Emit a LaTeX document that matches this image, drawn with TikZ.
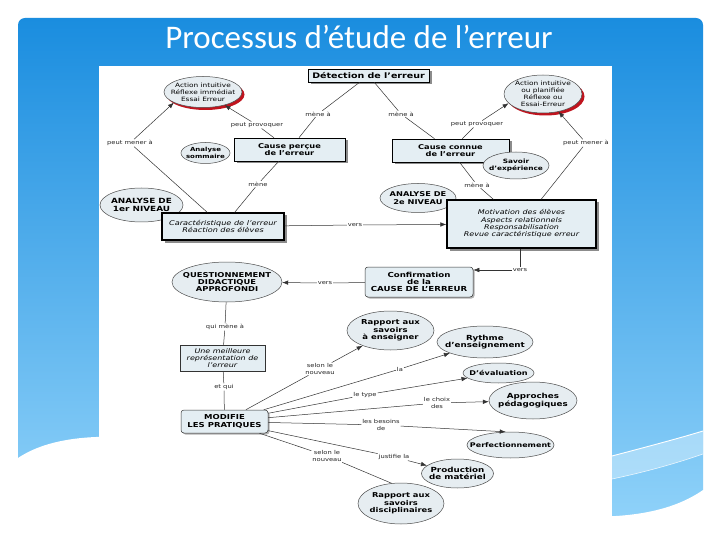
\documentclass[tikz,border=0pt]{standalone}
\usepackage{fontspec}
\setmainfont{DejaVu Sans}[FakeStretch=1.25]
\newfontfamily\titlefont{Carlito}
\usetikzlibrary{shapes.geometric,shadows,arrows.meta}
\definecolor{slidetop}{HTML}{1A8DDF}
\definecolor{slidemid}{HTML}{52B0EF}
\definecolor{slidebot}{HTML}{93D4FA}
\definecolor{boxfill}{HTML}{E4EEF3}
\definecolor{ellfill}{HTML}{E6EDF1}
\definecolor{redsh}{HTML}{C0141E}
\newcommand\mapsize[2]{\fontsize{#1}{#2}\selectfont}
\tikzset{
  ellshape/.style={ellipse, draw=black!70, line width=0.5pt, fill=ellfill, inner sep=0pt},
  redshadow/.style={drop shadow={shadow xshift=2.5pt, shadow yshift=-2.5pt, fill=redsh, opacity=1}},
  grayshadow/.style={drop shadow={shadow xshift=2.5pt, shadow yshift=-2.5pt, fill=black!45, opacity=1}},
  softshadow/.style={drop shadow={shadow xshift=1.5pt, shadow yshift=-1.5pt, fill=black!30, opacity=1}},
  etext/.style={inner sep=0pt, align=center, font=\bfseries\mapsize{6.7}{7.3}},
  eplain/.style={inner sep=0pt, align=center, font=\mapsize{5.9}{6.9}},
  boxnode/.style={rectangle, draw=black, line width=0.6pt, fill=boxfill, inner sep=0pt, align=center, font=\bfseries\mapsize{6.6}{7.3}},
  thickbox/.style={boxnode, line width=1.3pt, font=\itshape\mapsize{6.5}{7.3}},
  thinbox/.style={boxnode, line width=0.5pt, draw=black!80, font=\itshape\mapsize{6.4}{7.3}},
  roundbox/.style={boxnode, rounded corners=3pt, line width=0.5pt, draw=black!80},
  lbl/.style={inner sep=0.8pt, fill=white, align=center, text=black!85, font=\mapsize{5.4}{6.6}},
  conn/.style={draw=black!80, line width=0.5pt},
  arr/.style={conn, -{Latex[length=6pt,width=4.5pt]}},
}
\begin{document}
\begin{tikzpicture}[x=1pt,y=-1pt]
\useasboundingbox (0,0) rectangle (720,540);
\fill[white] (0,0) rectangle (720,540);
% slide background
\shade[top color=slidetop, middle color=slidemid, bottom color=slidebot, rounded corners=7pt] (18,18) rectangle (703,535);
\fill[white!60!slidebot, opacity=0.5] (612,456) .. controls (650,446) and (680,438) .. (703,431) -- (703,454) .. controls (680,462) and (650,471) .. (612,479) -- cycle;
\draw[white, line width=0.9pt] (612,456) .. controls (650,446) and (680,438) .. (703,431);
\draw[white, line width=0.6pt, opacity=0.8] (612,479) .. controls (650,471) and (680,462) .. (703,454);
\fill[white] (0,540) -- (0,458) -- (18,458) .. controls (150,370) and (560,590) .. (703,490) -- (720,490) -- (720,540) -- cycle;
\node[font=\titlefont\fontsize{33}{37}\selectfont, text=white, anchor=base, inner sep=0pt] (title) at (359,49) {Processus d’étude de l’erreur};
% picture frame
\fill[white] (99,66) rectangle (612,527);

% nodes
\node[boxnode, grayshadow, minimum width=121pt, minimum height=13pt, font=\bfseries\mapsize{7.6}{8}] (det) at (368.5,75.5) {Détection de l'erreur};

\node[ellshape, redshadow, minimum width=78pt, minimum height=31pt] (actL) at (203,92) {};
\node[eplain] (actLt) at (actL) {Action intuitive\\Réflexe immédiat\\Essai Erreur};
\node[ellshape, redshadow, minimum width=78pt, minimum height=38pt] (actR) at (543,94) {};
\node[eplain] (actRt) at (actR) {Action intuitive\\ou planifiée\\Réflexe ou\\Essai-Erreur};

\node[boxnode, grayshadow, minimum width=111pt, minimum height=23pt] (cp) at (289.5,149.5) {Cause perçue\\de l'erreur};
\node[ellshape, minimum width=49pt, minimum height=21pt] (asom) at (205.5,153) {};
\node[etext, font=\bfseries\mapsize{5.6}{6.5}] (asomt) at (asom) {Analyse\\sommaire};

\node[boxnode, grayshadow, minimum width=117pt, minimum height=23pt] (cc) at (450.5,150.5) {Cause connue\\de l'erreur};
\node[ellshape, minimum width=66pt, minimum height=27pt] (savoir) at (516,165.5) {};
\node[etext, font=\bfseries\mapsize{5.9}{7}] (savoirt) at (savoir) {Savoir\\d'expérience};

\node[ellshape, minimum width=83pt, minimum height=34pt] (an1) at (141.5,205) {};
\node[etext, font=\bfseries\mapsize{7.1}{7.8}] (an1t) at (an1) {ANALYSE DE\\1er NIVEAU};
\node[thickbox, grayshadow, minimum width=122pt, minimum height=27pt] (car) at (223,226.5) {Caractéristique de l'erreur\\Réaction des élèves};

\node[ellshape, minimum width=76pt, minimum height=29pt] (an2) at (418,198) {};
\node[etext, font=\bfseries\mapsize{6.6}{7.6}] (an2t) at (an2) {ANALYSE DE\\2e NIVEAU};
\node[thickbox, grayshadow, minimum width=149pt, minimum height=48pt, font=\itshape\mapsize{6.4}{7.3}] (mot) at (521.5,224) {Motivation des élèves\\Aspects relationnels\\Responsabilisation\\Revue caractéristique erreur};

\node[roundbox, softshadow, minimum width=108pt, minimum height=30pt, font=\bfseries\mapsize{6.9}{7.3}] (conf) at (419,282) {Confirmation\\de la\\CAUSE DE L'ERREUR};
\node[ellshape, minimum width=110pt, minimum height=40pt] (quest) at (227,282) {};
\node[etext] (questt) at (quest) {QUESTIONNEMENT\\DIDACTIQUE\\APPROFONDI};

\node[thinbox, minimum width=85pt, minimum height=26pt] (meil) at (222.5,358) {Une meilleure\\représentation de\\l'erreur};
\node[roundbox, softshadow, minimum width=87pt, minimum height=23pt, font=\bfseries\mapsize{6.8}{7.4}] (mod) at (224.5,421.5) {MODIFIE\\LES PRATIQUES};

\node[ellshape, minimum width=87pt, minimum height=39pt] (r1) at (390.5,330.5) {};
\node[etext, font=\bfseries\mapsize{6.8}{7.3}] (r1t) at (r1) {Rapport aux\\savoirs\\à enseigner};
\node[ellshape, minimum width=96pt, minimum height=32pt] (ryt) at (485,342) {};
\node[etext, font=\bfseries\mapsize{7}{7.6}] (rytt) at (ryt) {Rythme\\d'enseignement};
\node[ellshape, minimum width=71pt, minimum height=20pt] (eval) at (498.5,373) {};
\node[etext, font=\bfseries\mapsize{6.5}{7}] (evalt) at (eval) {D'évaluation};
\node[ellshape, minimum width=88pt, minimum height=37pt] (appr) at (533,400.5) {};
\node[etext, font=\bfseries\mapsize{7}{7.6}] (apprt) at (appr) {Approches\\pédagogiques};
\node[ellshape, minimum width=87pt, minimum height=26pt] (perf) at (510.5,445) {};
\node[etext, font=\bfseries\mapsize{6.4}{7}] (perft) at (perf) {Perfectionnement};
\node[ellshape, minimum width=72pt, minimum height=29pt] (prod) at (457.5,473.5) {};
\node[etext, font=\bfseries\mapsize{7}{7.6}] (prodt) at (prod) {Production\\de matériel};
\node[ellshape, minimum width=86pt, minimum height=41pt] (rdis) at (401,503.5) {};
\node[etext] (rdist) at (rdis) {Rapport aux\\savoirs\\disciplinaires};

% labels
\node[lbl] (lMenaL) at (318,114) {mène à};
\node[lbl] (lMenaR) at (401,114) {mène à};
\node[lbl] (lProvL) at (257,125) {peut provoquer};
\node[lbl] (lProvR) at (477,124) {peut provoquer};
\node[lbl] (lPmL) at (130,143) {peut mener à};
\node[lbl] (lPmR) at (586,143) {peut mener à};
\node[lbl] (lMene) at (258,184) {mène};
\node[lbl] (lMenaR2) at (477,185) {mène à};
\node[lbl] (lVers1) at (355,225) {vers};
\node[lbl] (lVers2) at (520,270) {vers};
\node[lbl] (lVers3) at (325,283) {vers};
\node[lbl] (lQui) at (225,327) {qui mène à};
\node[lbl] (lEt) at (224,387) {et qui};
\node[lbl] (lS1) at (320,369) {selon le\\nouveau};
\node[lbl] (lLa) at (400,369) {la};
\node[lbl] (lType) at (365,395) {le type};
\node[lbl] (lChoix) at (437,403) {le choix\\des};
\node[lbl] (lBes) at (381,425) {les besoins\\de};
\node[lbl] (lJust) at (394,457) {justifie la};
\node[lbl] (lS2) at (327,456) {selon le\\nouveau};

% connectors
\draw[conn] (det) -- (lMenaL);
\draw[conn] (lMenaL) -- (cp);
\draw[conn] (det) -- (lMenaR);
\draw[conn] (lMenaR) -- (cc);
\draw[conn] (cp) -- (lProvL);
\draw[arr] (lProvL) -- (actL);
\draw[conn] (cc) -- (lProvR);
\draw[arr] (lProvR) -- (actR.-165);
\draw[conn] (car) -- (lPmL);
\draw[arr] (lPmL) -- (actL.-160);
\draw[conn] (mot) -- (lPmR);
\draw[arr] (lPmR) -- (actR);
\draw[conn] (cp) -- (lMene);
\draw[conn] (lMene) -- (car);
\draw[conn] (cc) -- (lMenaR2);
\draw[conn] (lMenaR2) -- (mot);
\draw[conn] (car) -- (lVers1);
\draw[arr] (lVers1) -- (mot);
\draw[conn] (mot.south -| lVers2) -- (lVers2);
\draw[arr] (lVers2) -- (lVers2 -| conf.east);
\draw[conn] (conf) -- (lVers3);
\draw[arr] (lVers3) -- (quest);
\draw[conn] (quest) -- (lQui);
\draw[conn] (lQui) -- (meil);
\draw[conn] (meil) -- (lEt);
\draw[conn] (lEt) -- (mod);
\draw[conn] (mod) -- (lS1);
\draw[arr] (lS1) -- (r1);
\draw[conn] (mod) -- (lLa);
\draw[arr] (lLa) -- (ryt);
\draw[conn] (mod) -- (lType);
\draw[arr] (lType) -- (eval);
\draw[conn] (mod) -- (lChoix);
\draw[arr] (lChoix) -- (appr);
\draw[conn] (mod) -- (lBes);
\draw[arr] (lBes) -- (perf.110);
\draw[conn] (mod) -- (lJust);
\draw[arr] (lJust) -- (prod);
\draw[conn] (mod) -- (lS2);
\draw[conn] (lS2) -- (rdis.115);
\end{tikzpicture}
\end{document}
